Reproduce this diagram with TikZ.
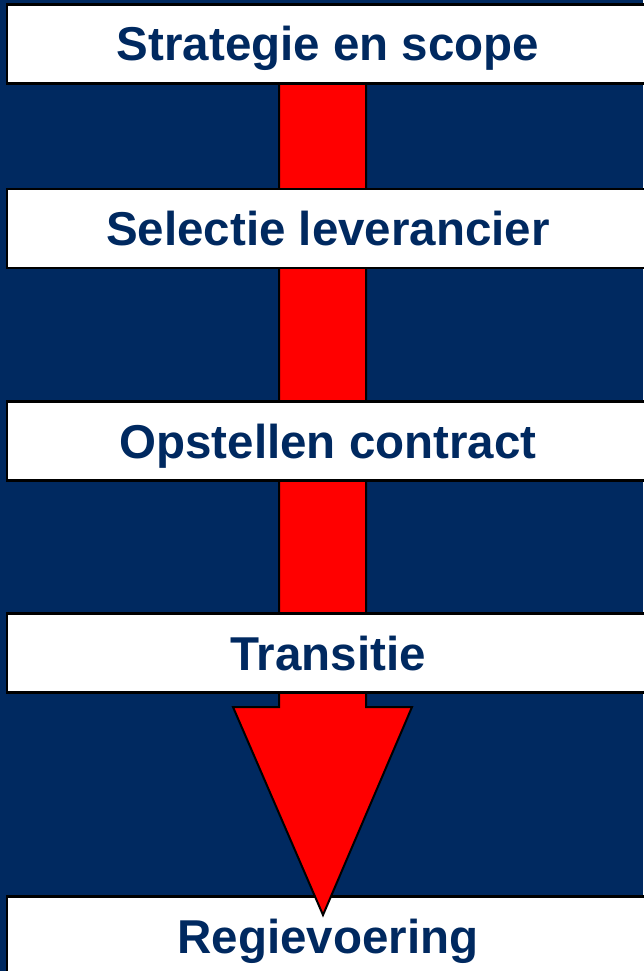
\documentclass[tikz,border=0pt]{standalone}
\usepackage{fontspec}
\setmainfont{Liberation Sans}
\definecolor{navy}{RGB}{0,41,96}
\definecolor{arrowred}{RGB}{255,0,0}
\begin{document}
\begin{tikzpicture}[x=1pt,y=-1pt,
  stage/.style={draw=black, line width=2.6pt, fill=white, rectangle,
    minimum width=642pt, minimum height=79pt, inner sep=0pt,
    text height=34pt, text depth=0pt, text=navy,
    font=\fontsize{47.5}{50}\selectfont\bfseries},
  flow/.style={draw=black, line width=2pt, fill=arrowred, line join=miter}]
\fill[navy] (0,0) rectangle (643,971);
\useasboundingbox (0,0) rectangle (643,971);
\node[stage] (b5) at (328,936) {Regievoering};
\coordinate (st) at (322.5,40);
\draw[flow] (279,40) -- (279,707) -- (233,707) -- (323,915) -- (412,707)
  -- (366,707) -- (366,40) -- cycle;
\node[stage] (b1) at (328,44) {Strategie en scope};
\node[stage] (b2) at (328,228.5) {Selectie leverancier};
\node[stage] (b3) at (328,441) {Opstellen contract};
\node[stage] (b4) at (328,653) {Transitie};
\end{tikzpicture}
\end{document}
